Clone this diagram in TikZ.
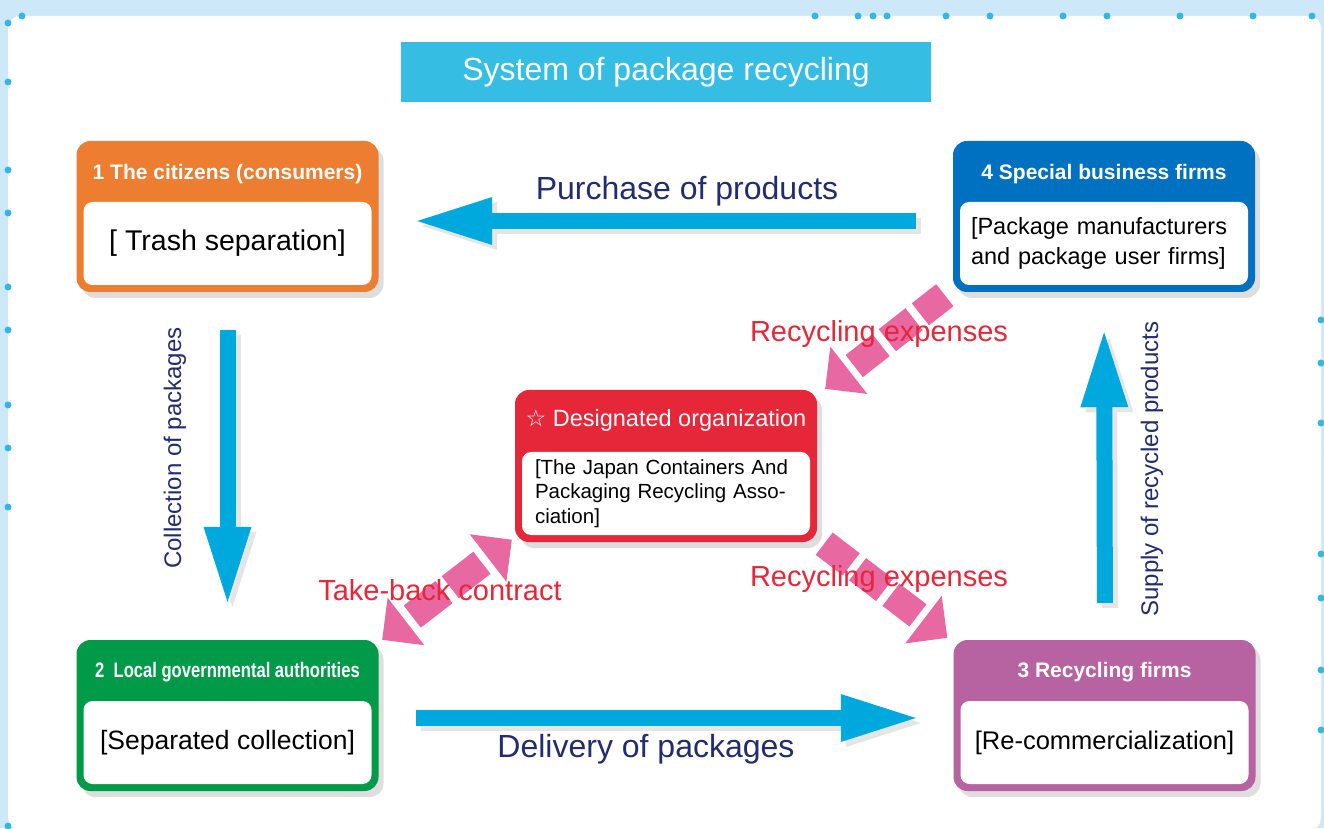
\documentclass[tikz,border=0pt]{standalone}
\usepackage{fontspec}
\setmainfont{Liberation Sans}
\newfontfamily\narrowsans[FakeStretch=0.79]{Liberation Sans}
\newfontfamily\starsymbol{DejaVu Sans}
\usepackage{xcolor}
\usetikzlibrary{arrows.meta, positioning, calc, shadows}
\definecolor{framesky}{RGB}{205,233,249}
\definecolor{dotcyan}{RGB}{52,183,229}
\definecolor{titlecyan}{RGB}{54,189,228}
\definecolor{citizenorange}{RGB}{237,125,49}
\definecolor{firmblue}{RGB}{0,112,192}
\definecolor{localgreen}{RGB}{0,154,72}
\definecolor{recyclepurple}{RGB}{184,99,161}
\definecolor{orgred}{RGB}{230,38,57}
\definecolor{flowblue}{RGB}{0,169,221}
\definecolor{expensepink}{RGB}{232,104,162}
\definecolor{labelnavy}{RGB}{35,44,110}

\begin{document}
\begin{tikzpicture}[x=1pt, y=1pt,
    firm/.style={rectangle, fill=#1, rounded corners=14pt, minimum width=302pt, minimum height=151pt,
                 drop shadow={shadow xshift=5pt, shadow yshift=-6pt, fill=black, opacity=0.13}},
    panel/.style={rectangle, fill=white, rounded corners=9pt, minimum width=288pt, minimum height=83pt, inner sep=0pt},
    headtxt/.style={text=white, inner sep=0pt, font=\fontsize{21}{25}\selectfont\bfseries},
    flow/.style={draw=flowblue, line width=16pt, -{Triangle[length=75pt, width=48pt, line width=0pt]}},
    flowshade/.style={flow, draw=black!10, transform canvas={shift={(5pt,-5pt)}}},
    flowlbl/.style={text=labelnavy, inner sep=0pt, font=\fontsize{32}{38}\selectfont},
    sidelbl/.style={text=labelnavy, inner sep=0pt, rotate=90, font=\fontsize{24}{28}\selectfont},
    money/.style={draw=expensepink, line width=28pt, dash pattern=on 34pt off 8pt},
    moneytip/.tip={Triangle[length=30pt, width=60pt, line width=0pt]},
    moneylbl/.style={text=orgred, inner sep=0pt, font=\fontsize{29}{34}\selectfont}
]
    \useasboundingbox (0,0) rectangle (1324,828);

    % frame
    \fill[framesky] (0,0) rectangle (1324,828);
    \fill[white, rounded corners=12pt] (8,-2) rectangle (1321,812);
    \foreach \x in {22,815,858,873,887,946,990,1063,1107,1180,1253,1312}
        \fill[dotcyan] (\x,812) circle[radius=3.5pt];
    \foreach \y in {805,746,658,615,541,498,423,380,321,2}
        \fill[dotcyan] (8,\y) circle[radius=3.5pt];
    \foreach \y in {508,465,405,274,230,158,98}
        \fill[dotcyan] (1321,\y) circle[radius=3.5pt];

    % title
    \node[fill=titlecyan, minimum width=530pt, minimum height=60pt, text=white,
          font=\fontsize{32}{38}\selectfont] (title) at (666,756) {System of package recycling};

    % 1 citizens
    \node[firm=citizenorange] (cit) at (227.5,611.5) {};
    \node[headtxt] (citHead) at ([yshift=-33pt]cit.north) {1 The citizens (consumers)};
    \node[panel, above=7pt of cit.south, font=\fontsize{28.5}{34}\selectfont] (citBody) {[ Trash separation]};

    % 4 special business firms
    \node[firm=firmblue] (spec) at (1104,611.5) {};
    \node[headtxt] (specHead) at ([yshift=-33pt]spec.north) {4 Special business firms};
    \node[panel, above=7pt of spec.south, text width=266pt, align=left,
          font=\fontsize{23.5}{29.5}\selectfont] (specBody)
        {\makebox[266pt][s]{[Package manufacturers}\\and package user firms]};

    % 2 local authorities
    \node[firm=localgreen] (loc) at (227.5,112.5) {};
    \node[headtxt, font=\fontsize{21}{25}\selectfont\narrowsans\bfseries] (locHead)
        at ([yshift=-32pt]loc.north) {2\ \ Local governmental authorities};
    \node[panel, above=7pt of loc.south, font=\fontsize{26.5}{32}\selectfont] (locBody) {[Separated collection]};

    % 3 recycling firms
    \node[firm=recyclepurple] (rec) at (1104.5,112.5) {};
    \node[headtxt] (recHead) at ([yshift=-32pt]rec.north) {3 Recycling firms};
    \node[panel, above=7pt of rec.south, font=\fontsize{25.5}{30}\selectfont] (recBody) {[Re-commercialization]};

    % designated organization
    \node[firm=orgred, minimum height=152pt] (org) at (666,362) {};
    \node[headtxt, font=\fontsize{23.5}{28}\selectfont] (orgHead) at ([yshift=-31pt]org.north)
        {{\starsymbol\fontsize{23}{24}\selectfont ☆} Designated organization};
    \node[panel, above=7pt of org.south, text width=262pt, align=left,
          font=\fontsize{20.5}{24.5}\selectfont] (orgBody)
        {\makebox[262pt][s]{[The Japan Containers And}\\
         \makebox[262pt][s]{Packaging Recycling Asso-}\\ciation]};

    % goods and packages
    \draw[flowshade, shorten <=37pt, shorten >=38.5pt] ([yshift=-4.5pt]spec.west) -- ([yshift=-4.5pt]cit.east);
    \draw[flow, shorten <=37pt, shorten >=38.5pt] ([yshift=-4.5pt]spec.west) -- ([yshift=-4.5pt]cit.east);
    \node[flowlbl] (buyLbl) at (687,637) {Purchase of products};
    \draw[flowshade, shorten <=38pt, shorten >=38pt] (cit.south) -- (loc.north);
    \draw[flow, shorten <=38pt, shorten >=38pt] (cit.south) -- (loc.north);
    \node[sidelbl] (collLbl) at (175,380) {Collection of packages};
    \draw[flowshade, shorten <=37.5pt, shorten >=37.5pt] ([yshift=-2.5pt]loc.east) -- ([yshift=-2.5pt]rec.west);
    \draw[flow, shorten <=37.5pt, shorten >=37.5pt] ([yshift=-2.5pt]loc.east) -- ([yshift=-2.5pt]rec.west);
    \node[flowlbl] (delLbl) at (646,79) {Delivery of packages};
    \draw[flowshade, shorten <=37pt, shorten >=40pt] ([xshift=0.5pt]rec.north) -- (spec.south);
    \draw[flow, shorten <=37pt, shorten >=40pt] ([xshift=0.5pt]rec.north) -- (spec.south);
    \node[sidelbl] (supLbl) at (1152,359) {Supply of recycled products};

    % money and contract
    \draw[money, dash phase=3pt, -moneytip] ([shift={(-8,-3)}]spec.south west) -- ([shift={(8,1)}]org.north east);
    \draw[money, -moneytip] ([shift={(7,-1.5)}]org.south east) -- ([shift={(-6,2)}]rec.north west);
    \draw[money, dash pattern=on 40pt off 8pt, dash phase=40pt, moneytip-moneytip]
        ([shift={(3.5,0)}]loc.north east) -- ([shift={(-3,2.5)}]org.south west);
    \node[moneylbl] (pay1Lbl) at (879,494) {Recycling expenses};
    \node[moneylbl] (pay2Lbl) at (879,249) {Recycling expenses};
    \node[moneylbl] (dealLbl) at (440,238) {Take-back contract};
\end{tikzpicture}
\end{document}
